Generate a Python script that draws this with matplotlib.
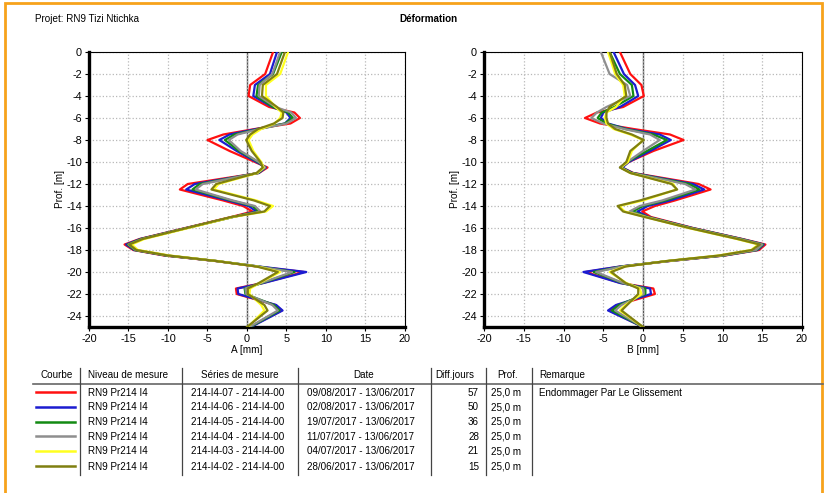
import matplotlib
matplotlib.use("Agg")
import matplotlib.pyplot as plt
from matplotlib.lines import Line2D
from matplotlib.patches import Rectangle

plt.rcParams['font.family'] = ['Liberation Sans', 'DejaVu Sans']
plt.rcParams['axes.unicode_minus'] = False

W, H = 828, 493

# depth of the measurement points [m]
depth = [0, -2, -3, -4, -5, -5.5, -6, -6.5, -7, -7.5, -8, -9, -10, -10.5, -11, -12, -12.5,
         -13.5, -14, -14.5, -15, -16, -17, -17.5, -18, -18.5, -19, -19.5, -20, -21, -21.5,
         -22, -23, -23.5, -25]

# axe A [mm]
a_red = [3.3, 2.3, 0.4, 0.2, 2.8, 6.0, 6.7, 5.5, 1.0, -3.0, -5.0, -2.2, 1.0, 2.6, 1.5, -7.5, -8.5,
         -3.0, -0.5, 0.7, -2.0, -7.8, -13.6, -15.5, -14.4, -10.5, -4.0, 1.2, 7.2, 2.0, -1.4,
         -1.3, 3.6, 4.4, 0.4]
a_blue = [3.8, 2.9, 1.0, 0.8, 3.2, 5.0, 5.5, 4.8, 1.2, -2.2, -3.5, -1.3, 1.2, 2.4, 1.5, -6.6, -7.7,
          -2.4, 0.2, 1.2, -1.8, -7.7, -13.5, -15.3, -14.3, -10.3, -3.9, 1.5, 7.5, 2.1, -1.2,
          -1.1, 3.7, 4.5, 0.5]
a_green = [4.4, 3.3, 1.4, 1.2, 3.3, 5.2, 5.8, 4.8, 1.5, -1.6, -2.8, -1.0, 1.4, 2.3, 1.4, -6.0, -6.9,
           -2.0, 0.7, 1.5, -1.8, -7.6, -13.4, -15.1, -14.2, -10.2, -3.9, 1.4, 6.0, 1.9, -0.3,
           -0.2, 3.4, 4.1, 0.4]
a_gray = [4.2, 3.2, 1.6, 1.5, 3.6, 5.6, 6.2, 5.0, 1.6, -1.2, -2.3, -0.8, 1.5, 2.3, 1.3, -5.6, -6.5,
          -1.8, 1.0, 1.7, -1.8, -7.6, -13.3, -15.0, -14.1, -10.1, -3.9, 1.4, 5.7, 1.8, -0.2,
          -0.1, 3.2, 3.9, 0.3]
a_yellow = [5.2, 4.2, 2.4, 2.4, 3.6, 4.4, 4.2, 3.5, 1.8, 0.7, 0.2, 0.8, 1.8, 2.1, 1.3, -3.6, -4.2,
            1.2, 3.3, 2.4, -1.8, -7.4, -13.0, -14.6, -13.8, -9.8, -3.8, 1.3, 4.2, 1.6, 0.4,
            0.3, 1.8, 2.2, 0.1]
a_olive = [4.8, 3.8, 2.0, 1.9, 3.8, 4.6, 4.5, 3.4, 1.4, 0.4, -0.1, 0.6, 1.7, 2.0, 1.2, -3.9, -4.5,
           0.9, 2.9, 2.2, -2.0, -7.6, -13.2, -14.9, -14.0, -10.0, -3.9, 1.2, 3.9, 1.5, 0.1,
           0.1, 2.2, 2.6, 0.0]

# axe B [mm]
b_red = [-2.9, -1.6, -0.2, 0.1, -2.5, -5.8, -7.3, -5.4, -1.2, 3.4, 5.1, 1.3, -1.8, -2.7, -1.2, 7.0, 8.5,
         4.0, 1.5, -0.1, 1.0, 6.3, 12.5, 15.4, 14.6, 10.3, 3.4, -2.8, -7.2, -2.8, 1.3,
         1.5, -3.2, -4.2, 0.0]
b_blue = [-3.7, -2.4, -1.0, -0.6, -2.9, -5.0, -5.3, -4.4, -2.0, 2.1, 3.5, 0.9, -1.8, -2.6, -1.3, 6.3, 7.7,
          3.4, 0.6, -0.7, 0.7, 6.2, 12.4, 15.2, 14.4, 10.2, 3.3, -2.9, -7.5, -2.9, 0.9,
          1.0, -3.4, -4.4, 0.0]
b_green = [-4.2, -2.9, -1.4, -1.2, -3.6, -5.2, -5.7, -4.6, -2.2, 1.3, 3.0, 0.5, -2.0, -2.8, -1.4, 5.8, 7.1,
           2.8, 0.0, -1.3, 0.6, 6.1, 12.3, 15.1, 14.3, 10.1, 3.2, -2.7, -6.2, -2.6, 0.3,
           0.3, -3.0, -3.9, 0.0]
b_gray = [-5.3, -4.2, -2.0, -1.6, -4.6, -5.8, -6.5, -5.0, -2.4, 0.9, 2.1, 0.0, -2.0, -2.9, -1.5, 5.3, 6.6,
          2.4, -0.4, -1.7, 0.5, 6.0, 12.2, 15.0, 14.2, 10.0, 3.2, -2.6, -5.9, -2.5, 0.0,
          0.1, -2.7, -3.5, 0.0]
b_yellow = [-4.4, -3.5, -2.5, -2.3, -3.4, -4.6, -4.8, -4.6, -3.7, -1.6, 0.0, -1.4, -1.9, -2.8, -1.6, 3.8, 4.2,
            0.0, -3.0, -2.3, 0.3, 5.7, 11.8, 14.5, 13.6, 9.5, 3.0, -2.3, -4.2, -2.1, -0.4,
            -0.2, -2.2, -2.9, 0.0]
b_olive = [-4.2, -3.3, -2.3, -2.1, -4.2, -4.6, -4.6, -4.4, -3.5, -1.4, 0.1, -1.6, -2.1, -2.9, -1.6, 3.6, 4.3,
           -0.4, -3.2, -2.5, 0.2, 5.8, 11.9, 14.7, 13.7, 9.6, 3.0, -2.2, -4.0, -2.2, -0.6,
           -0.6, -2.0, -2.7, 0.0]

# table
niveau = ['RN9 Pr214 I4'] * 6
series = ['214-I4-07 - 214-I4-00', '214-I4-06 - 214-I4-00', '214-I4-05 - 214-I4-00',
          '214-I4-04 - 214-I4-00', '214-I4-03 - 214-I4-00', '214-I4-02 - 214-I4-00']
dates = ['09/08/2017 - 13/06/2017', '02/08/2017 - 13/06/2017', '19/07/2017 - 13/06/2017',
         '11/07/2017 - 13/06/2017', '04/07/2017 - 13/06/2017', '28/06/2017 - 13/06/2017']
diff_jours = [57, 50, 36, 28, 21, 15]
prof = ['25,0 m'] * 6
remarque = ['Endommager Par Le Glissement', '', '', '', '', '']

colors = ['#ff1010', '#1c1cd0', '#138a13', '#8e8e8e', '#ffff20', '#7f7f10']
A = [a_red, a_blue, a_green, a_gray, a_yellow, a_olive]
B = [b_red, b_blue, b_green, b_gray, b_yellow, b_olive]


def fx(x):
    return x / W


def fy(y):
    return 1 - y / H


fig = plt.figure(figsize=(W / 100, H / 100), dpi=100)
fig.patch.set_facecolor('white')


def make_axes(x0, x1, y0, y1, data, xlabel):
    ax = fig.add_axes([fx(x0), fy(y1), fx(x1 - x0), (y1 - y0) / H])
    ax.set_xlim(-20, 20)
    ax.set_ylim(-25, 0)
    ax.set_xticks(range(-20, 21, 5))
    ax.set_yticks(range(0, -25, -2))
    ax.grid(True, ls=':', color='#b8b8b8', lw=0.9)
    ax.axvline(0, color='#555555', lw=1.0, zorder=1.5)
    for vals, c in zip(data, colors):
        ax.plot(vals, depth, color=c, lw=1.6, zorder=3)
    for s in ['left', 'bottom']:
        ax.spines[s].set_linewidth(2.4)
    for s in ['top', 'right']:
        ax.spines[s].set_linewidth(0.8)
    ax.tick_params(labelsize=7.8, length=3, width=0.8, pad=2)
    ax.set_xlabel(xlabel, fontsize=7.2, labelpad=1)
    ax.set_ylabel('Prof. [m]', fontsize=7.2, labelpad=1)
    return ax


make_axes(89, 405, 52, 327, A, 'A [mm]')
make_axes(484, 802, 52, 327, B, 'B [mm]')

fs = 7.1
vb = 'baseline'
off = 3.5  # baseline offset below the row centre, px
fig.text(fx(35), fy(18 + off), 'Projet: RN9 Tizi Ntichka', fontsize=fs, va=vb)
fig.text(fx(428), fy(18 + off), 'Déformation', fontsize=fs, weight='bold', ha='center', va=vb)

# table header
hy = 375 + off
fig.text(fx(57), fy(hy), 'Courbe', fontsize=fs, ha='center', va=vb)
fig.text(fx(88), fy(hy), 'Niveau de mesure', fontsize=fs, va=vb)
fig.text(fx(240), fy(hy), 'Séries de mesure', fontsize=fs, ha='center', va=vb)
fig.text(fx(364), fy(hy), 'Date', fontsize=fs, ha='center', va=vb)
fig.text(fx(455), fy(hy), 'Diff.jours', fontsize=fs, ha='center', va=vb)
fig.text(fx(508), fy(hy), 'Prof.', fontsize=fs, ha='center', va=vb)
fig.text(fx(539), fy(hy), 'Remarque', fontsize=fs, va=vb)

fig.add_artist(Line2D([fx(33), fx(823)], [fy(384), fy(384)], color='#666666', lw=1.2))
for xs in [80, 182, 298, 431, 486, 532]:
    fig.add_artist(Line2D([fx(xs), fx(xs)], [fy(368), fy(475)], color='#444444', lw=0.9))

row_y = [392, 407, 421.5, 436, 451, 466]
for i, y in enumerate(row_y):
    ty = fy(y + off)
    fig.add_artist(Line2D([fx(36), fx(75)], [fy(y), fy(y)], color=colors[i], lw=1.8))
    fig.text(fx(88), ty, niveau[i], fontsize=fs, va=vb)
    fig.text(fx(238), ty, series[i], fontsize=fs, ha='center', va=vb)
    fig.text(fx(361), ty, dates[i], fontsize=fs, ha='center', va=vb)
    fig.text(fx(479), ty, str(diff_jours[i]), fontsize=fs, ha='right', va=vb)
    fig.text(fx(491), ty, prof[i], fontsize=fs, va=vb)
    fig.text(fx(539), ty, remarque[i], fontsize=fs, va=vb)

# orange frame
fig.add_artist(Rectangle((fx(5), -0.1), fx(822 - 5), fy(3) + 0.1, fill=False,
                         ec='#f7a21b', lw=2.0))

fig.savefig('out.png', dpi=100)
